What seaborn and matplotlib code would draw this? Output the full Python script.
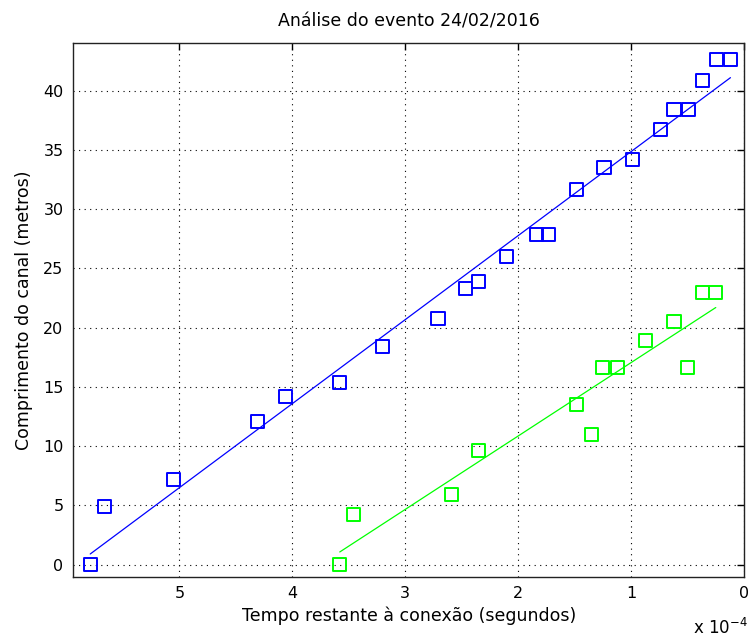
import numpy as np
import matplotlib
matplotlib.use("Agg")
import matplotlib.pyplot as plt
from matplotlib.ticker import FixedLocator, FuncFormatter
import seaborn as sns

# Data (x in units of 1e-4 s)
blue_x = [5.79, 5.66, 5.05, 4.31, 4.06, 3.58, 3.20, 2.71, 2.47, 2.35, 2.10,
          1.84, 1.73, 1.48, 1.24, 0.99, 0.74, 0.62, 0.49, 0.37, 0.24, 0.12]
blue_y = [0.0, 4.9, 7.2, 12.1, 14.2, 15.4, 18.4, 20.8, 23.3, 23.9, 26.0,
          27.9, 27.9, 31.7, 33.5, 34.2, 36.7, 38.4, 38.4, 40.9, 42.6, 42.6]
green_x = [3.58, 3.46, 2.59, 2.35, 1.48, 1.35, 1.25, 1.12, 0.87, 0.62, 0.50, 0.37, 0.25]
green_y = [0.0, 4.2, 5.95, 9.6, 13.5, 10.95, 16.6, 16.6, 18.95, 20.5, 16.6, 23.0, 23.0]
blue_fit_x = [5.79, 0.12]
blue_fit_y = [0.9, 41.1]
green_fit_x = [3.58, 0.25]
green_fit_y = [1.07, 21.7]
x_ticks = [0, 1, 2, 3, 4, 5]
y_ticks = [0, 5, 10, 15, 20, 25, 30, 35, 40]

SCALE = 1e-4

sns.set_style("white")
plt.rcParams['font.family'] = ['DejaVu Sans']
plt.rcParams['text.color'] = 'black'
plt.rcParams['axes.labelcolor'] = 'black'

fig = plt.figure(figsize=(7.49, 6.38), dpi=100)
ax = fig.add_axes([73.3 / 749, 1 - 576.5 / 638, (744 - 73.3) / 749, (576.5 - 43.3) / 638])

bx = np.array(blue_x) * SCALE
gx = np.array(green_x) * SCALE

sns.lineplot(x=np.array(blue_fit_x) * SCALE, y=blue_fit_y, ax=ax, color=(0, 0, 1), lw=0.9, zorder=2)
sns.lineplot(x=np.array(green_fit_x) * SCALE, y=green_fit_y, ax=ax, color=(0, 1, 0), lw=0.9, zorder=2)
sns.scatterplot(x=bx, y=blue_y, ax=ax, marker='s', s=88, facecolors='none',
                edgecolor=(0, 0, 1), linewidth=1.4, zorder=3)
sns.scatterplot(x=gx, y=green_y, ax=ax, marker='s', s=88, facecolors='none',
                edgecolor=(0, 1, 0), linewidth=1.4, zorder=3)

ax.set_xlim(5.94 * SCALE, 0)
ax.set_ylim(-1, 44)
ax.xaxis.set_major_locator(FixedLocator(np.array(x_ticks) * SCALE))
ax.xaxis.set_major_formatter(FuncFormatter(lambda v, p: f"{v / SCALE:.0f}"))
ax.yaxis.set_major_locator(FixedLocator(y_ticks))

ax.grid(True, color='black', linestyle=(0, (1, 4)), linewidth=0.8)
ax.tick_params(direction='in', length=5, width=1, top=True, right=True,
               labelsize=11.5, colors='black', pad=7)
ax.tick_params(axis='x', pad=7)
for s in ax.spines.values():
    s.set_color('#222222')
    s.set_linewidth(1.0)

ax.set_title("Análise do evento 24/02/2016", fontsize=12.5, pad=12)
ax.set_xlabel("Tempo restante à conexão (segundos)", fontsize=12.5, labelpad=4)
ax.set_ylabel("Comprimento do canal (metros)", fontsize=12.5, labelpad=7)
fig.text(720 / 749, 1 - 628 / 638, r"x 10$^{-4}$", fontsize=12, ha='center', va='center')

fig.savefig("out.png", dpi=100, facecolor='white')
